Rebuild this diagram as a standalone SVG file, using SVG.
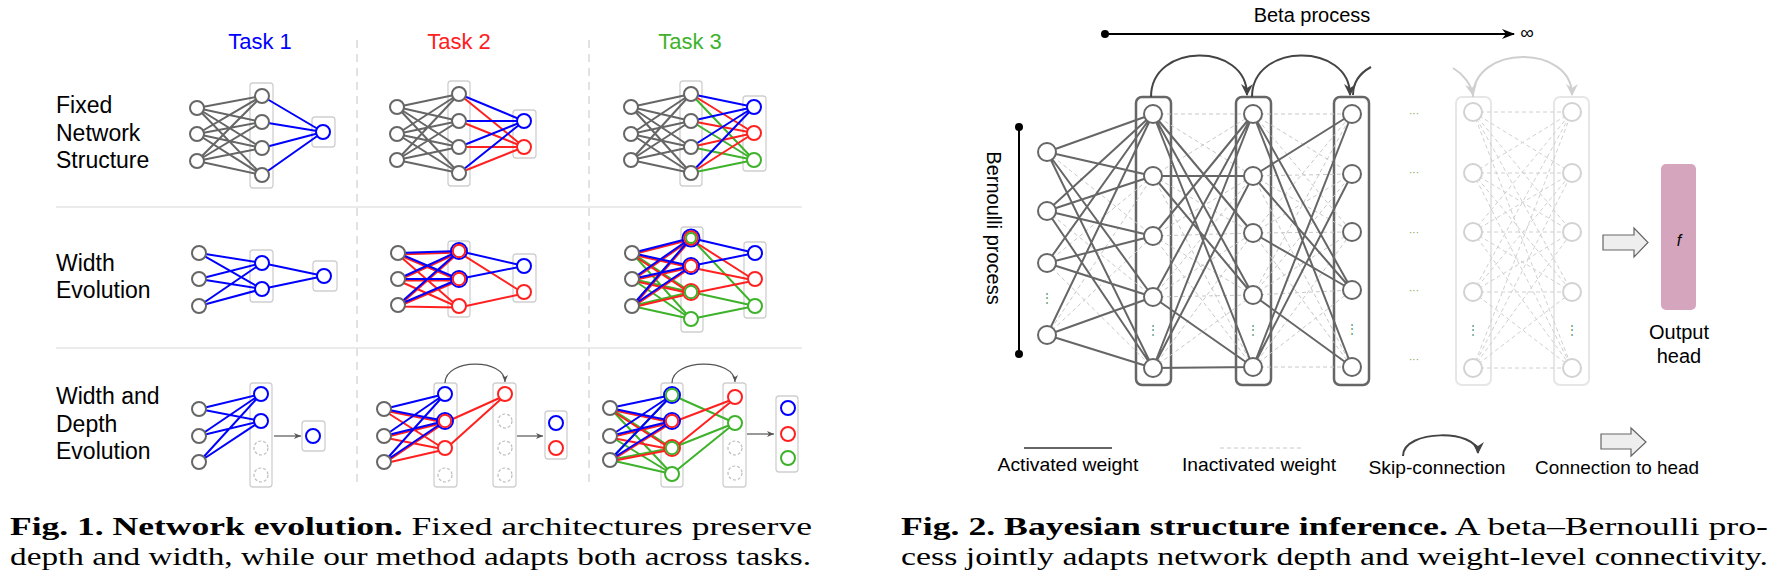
<svg xmlns="http://www.w3.org/2000/svg" width="1781" height="577" viewBox="0 0 1781 577">
<style>
text{font-family:"Liberation Sans",Arial,sans-serif;fill:#000}
.lbl{font-size:23px}
.task{font-size:22px;text-anchor:middle}
.cap{font-family:"Liberation Serif","Times New Roman",serif;font-size:26px}
.box{fill:none;stroke:#cfcfcf;stroke-width:1.3}
.n{fill:#fff;stroke:#666;stroke-width:2}
.nb{fill:#fff;stroke:#0000ff;stroke-width:2}
.nr{fill:#fff;stroke:#ff2020;stroke-width:2}
.ng{fill:#fff;stroke:#3db22a;stroke-width:2}
.nd{fill:#fff;stroke:#bdbdbd;stroke-width:1.2;stroke-dasharray:3 2}
.eg{fill:none;stroke:#666;stroke-width:2}
.eb{fill:none;stroke:#0000ff;stroke-width:2}
.er{fill:none;stroke:#ff2020;stroke-width:2}
.egr{fill:none;stroke:#3db22a;stroke-width:2}
.sep{stroke:#ebebeb;stroke-width:2}
.vsep{stroke:#e2e2e2;stroke-width:2;stroke-dasharray:8 6}
.sm{fill:none;stroke:#555;stroke-width:1.2}
.lay{fill:none;stroke:#666;stroke-width:2.5}
.flay{fill:none;stroke:#e6e6e6;stroke-width:2}
.act{fill:none;stroke:#666;stroke-width:2}
.ina{fill:none;stroke:#c8c8c8;stroke-width:1;stroke-dasharray:4 3}
.fad{fill:none;stroke:#d0d0d0;stroke-width:1;stroke-dasharray:4 3}
.m2{fill:#fff;stroke:#666;stroke-width:2}
.fm{fill:#fff;stroke:#d2d2d2;stroke-width:2}
.dots{font-size:10px;fill:#7ca040;text-anchor:middle}
.vd{font-size:12px;fill:#4f9a6a;text-anchor:middle}
.leg{font-size:19px;text-anchor:middle}
</style>
<defs>
<marker id="ahs" markerWidth="8" markerHeight="8" refX="7" refY="4" orient="auto" markerUnits="userSpaceOnUse"><path d="M0 1L7 4L0 7L2 4Z" fill="#555"/></marker>
<marker id="ahd" markerWidth="14" markerHeight="14" refX="11" refY="7" orient="auto" markerUnits="userSpaceOnUse"><path d="M0 1L12 7L0 13L4 7Z" fill="#444"/></marker>
<marker id="ahf" markerWidth="14" markerHeight="14" refX="11" refY="7" orient="auto" markerUnits="userSpaceOnUse"><path d="M0 1L12 7L0 13L4 7Z" fill="#cfcfcf"/></marker>
<marker id="ahk" markerWidth="14" markerHeight="12" refX="12" refY="6" orient="auto" markerUnits="userSpaceOnUse"><path d="M0 1L13 6L0 11L4 6Z" fill="#000"/></marker>
</defs>
<rect width="1781" height="577" fill="#fff"/>

<!-- ================= FIG 1 ================= -->
<g id="fig1-grid">
<line class="sep" x1="56" y1="207" x2="802" y2="207"/>
<line class="sep" x1="56" y1="348" x2="802" y2="348"/>
<line class="vsep" x1="357" y1="40" x2="357" y2="484"/>
<line class="vsep" x1="589" y1="40" x2="589" y2="484"/>
</g>
<g id="fig1-labels">
<text class="task" x="260" y="49" style="fill:#0000ff">Task 1</text>
<text class="task" x="459" y="49" style="fill:#ff2020">Task 2</text>
<text class="task" x="690" y="49" style="fill:#3db22a">Task 3</text>
<text class="lbl" x="56" y="113">Fixed</text>
<text class="lbl" x="56" y="141">Network</text>
<text class="lbl" x="56" y="168">Structure</text>
<text class="lbl" x="56" y="271">Width</text>
<text class="lbl" x="56" y="298">Evolution</text>
<text class="lbl" x="56" y="404">Width and</text>
<text class="lbl" x="56" y="432">Depth</text>
<text class="lbl" x="56" y="459">Evolution</text>
</g>
<g id="fig1-boxes">
<rect class="box" x="250" y="83" width="23" height="105" rx="3"/>
<rect class="box" x="312" y="117" width="23" height="30" rx="3"/>
<rect class="box" x="448" y="81" width="22" height="105" rx="3"/>
<rect class="box" x="513" y="110" width="23" height="48" rx="3"/>
<rect class="box" x="680" y="81" width="22" height="105" rx="3"/>
<rect class="box" x="743" y="96" width="23" height="75" rx="3"/>
<rect class="box" x="250" y="250" width="23" height="52" rx="3"/>
<rect class="box" x="313" y="261" width="24" height="30" rx="3"/>
<rect class="box" x="448" y="241" width="22" height="76" rx="3"/>
<rect class="box" x="513" y="254" width="23" height="48" rx="3"/>
<rect class="box" x="681" y="227" width="22" height="105" rx="3"/>
<rect class="box" x="744" y="242" width="22" height="76" rx="3"/>
<rect class="box" x="250" y="383" width="22" height="104" rx="3"/>
<rect class="box" x="302" y="421" width="23" height="30" rx="3"/>
<rect class="box" x="434" y="383" width="23" height="104" rx="3"/>
<rect class="box" x="493" y="383" width="23" height="104" rx="3"/>
<rect class="box" x="545" y="411" width="22" height="48" rx="3"/>
<rect class="box" x="661" y="383" width="22" height="104" rx="3"/>
<rect class="box" x="723" y="383" width="23" height="104" rx="3"/>
<rect class="box" x="776" y="396" width="22" height="76" rx="3"/>
</g>
<g id="fig1-connectors">
<!-- row 1 -->
<path class="eg" d="M197 108L262 96M197 108L262 122M197 108L262 148M197 108L262 175M197 134L262 96M197 134L262 122M197 134L262 148M197 134L262 175M197 161L262 96M197 161L262 122M197 161L262 148M197 161L262 175"/>
<path class="eb" d="M262 96L323 132M262 122L323 132M262 148L323 132M262 175L323 132"/>
<path class="eg" d="M397 107L459 94M397 107L459 121M397 107L459 147M397 107L459 173M397 134L459 94M397 134L459 121M397 134L459 147M397 134L459 173M397 160L459 94M397 160L459 121M397 160L459 147M397 160L459 173"/>
<path class="er" d="M459 94L524 147M459 121L524 147M459 147L524 147M459 173L524 147"/>
<path class="eb" d="M459 94L524 121M459 121L524 121M459 147L524 121M459 173L524 121"/>
<path class="eg" d="M631 107L691 94M631 107L691 121M631 107L691 147M631 107L691 173M631 134L691 94M631 134L691 121M631 134L691 147M631 134L691 173M631 160L691 94M631 160L691 121M631 160L691 147M631 160L691 173"/>
<path class="egr" d="M691 94L754 160M691 121L754 160M691 147L754 160M691 173L754 160"/>
<path class="er" d="M691 94L754 133M691 121L754 133M691 147L754 133M691 173L754 133"/>
<path class="eb" d="M691 94L754 107M691 121L754 107M691 147L754 107M691 173L754 107"/>
<!-- row 2 -->
<path class="eb" d="M199 253L262 263M199 253L262 289M199 279L262 263M199 279L262 289M199 306L262 263M199 306L262 289M262 263L324 276M262 289L324 276"/>
<path class="er" transform="translate(0,1.5)" d="M398 253L459 251M398 253L459 279M398 253L459 306M398 279L459 251M398 279L459 279M398 279L459 306M398 305L459 251M398 305L459 279M398 305L459 306M459 251L524 292M459 306L524 292"/>
<path class="eb" d="M398 253L459 251M398 253L459 279M398 279L459 251M398 279L459 279M398 305L459 251M398 305L459 279M459 251L524 266M459 279L524 266"/>
<path class="egr" d="M632 253L691 292M632 253L691 319M632 279L691 292M632 279L691 319M632 306L691 238M632 306L691 292M632 306L691 319M691 238L755 306M691 292L755 306M691 319L755 306"/>
<path class="er" transform="translate(0,1.5)" d="M632 253L691 238M632 253L691 266M632 253L691 292M632 279L691 238M632 279L691 266M632 279L691 292M632 306L691 238M632 306L691 266M632 306L691 292M691 238L755 279M691 266L755 279M691 292L755 279"/>
<path class="eb" d="M632 253L691 238M632 253L691 266M632 279L691 238M632 279L691 266M632 306L691 238M632 306L691 266M691 238L755 253M691 266L755 253"/>
<!-- row 3 -->
<path class="eb" d="M199 409L261 394M199 409L261 421M199 436L261 394M199 436L261 421M199 462L261 394M199 462L261 421"/>
<path class="sm" d="M274 436L301 436" marker-end="url(#ahs)"/>
<path class="er" transform="translate(0,1.5)" d="M384 409L445 421M384 409L445 448M384 436L445 421M384 436L445 448M384 462L445 421M384 462L445 448M445 421L505 394M445 448L505 394"/>
<path class="eb" d="M384 409L445 394M384 409L445 421M384 436L445 394M384 436L445 421M384 462L445 394M384 462L445 421"/>
<path class="sm" d="M445 383C445 358 505 358 505 382" marker-end="url(#ahs)"/>
<path class="sm" d="M517 436L543 436" marker-end="url(#ahs)"/>
<path class="egr" d="M610 408L672 448M610 408L672 474M610 436L672 474M610 460L672 395M610 460L672 448M610 460L672 474M672 395L735 423M672 448L735 423M672 474L735 423"/>
<path class="er" transform="translate(0,1.5)" d="M610 408L672 421M610 408L672 448M610 436L672 421M610 436L672 448M610 460L672 421M610 460L672 448M672 421L735 397M672 448L735 397"/>
<path class="eb" d="M610 408L672 395M610 408L672 421M610 436L672 395M610 436L672 421M610 460L672 395M610 460L672 421"/>
<path class="sm" d="M672 383C672 358 735 358 735 382" marker-end="url(#ahs)"/>
<path class="sm" d="M747 434L774 434" marker-end="url(#ahs)"/>
</g>
<!-- row 1 nodes -->
<g id="r1t1-in"><circle class="n" cx="197" cy="108" r="7"/><circle class="n" cx="197" cy="134" r="7"/><circle class="n" cx="197" cy="161" r="7"/></g>
<g id="r1t1-hid"><circle class="n" cx="262" cy="96" r="7"/><circle class="n" cx="262" cy="122" r="7"/><circle class="n" cx="262" cy="148" r="7"/><circle class="n" cx="262" cy="175" r="7"/></g>
<g id="r1t1-out"><circle class="nb" cx="323" cy="132" r="7"/></g>
<g id="r1t2-in"><circle class="n" cx="397" cy="107" r="7"/><circle class="n" cx="397" cy="134" r="7"/><circle class="n" cx="397" cy="160" r="7"/></g>
<g id="r1t2-hid"><circle class="n" cx="459" cy="94" r="7"/><circle class="n" cx="459" cy="121" r="7"/><circle class="n" cx="459" cy="147" r="7"/><circle class="n" cx="459" cy="173" r="7"/></g>
<g id="r1t2-out"><circle class="nb" cx="524" cy="121" r="7"/><circle class="nr" cx="524" cy="147" r="7"/></g>
<g id="r1t3-in"><circle class="n" cx="631" cy="107" r="7"/><circle class="n" cx="631" cy="134" r="7"/><circle class="n" cx="631" cy="160" r="7"/></g>
<g id="r1t3-hid"><circle class="n" cx="691" cy="94" r="7"/><circle class="n" cx="691" cy="121" r="7"/><circle class="n" cx="691" cy="147" r="7"/><circle class="n" cx="691" cy="173" r="7"/></g>
<g id="r1t3-out"><circle class="nb" cx="754" cy="107" r="7"/><circle class="nr" cx="754" cy="133" r="7"/><circle class="ng" cx="754" cy="160" r="7"/></g>
<!-- row 2 nodes -->
<g id="r2t1-in"><circle class="n" cx="199" cy="253" r="7"/><circle class="n" cx="199" cy="279" r="7"/><circle class="n" cx="199" cy="306" r="7"/></g>
<g id="r2t1-hid"><circle class="nb" cx="262" cy="263" r="7"/><circle class="nb" cx="262" cy="289" r="7"/></g>
<g id="r2t1-out"><circle class="nb" cx="324" cy="276" r="7"/></g>
<g id="r2t2-in"><circle class="n" cx="398" cy="253" r="7"/><circle class="n" cx="398" cy="279" r="7"/><circle class="n" cx="398" cy="305" r="7"/></g>
<g id="r2t2-hid"><circle class="nb" cx="459" cy="251" r="8"/><circle class="nr" cx="459" cy="251" r="6.2"/><circle class="nb" cx="459" cy="279" r="8"/><circle class="nr" cx="459" cy="279" r="6.2"/><circle class="nr" cx="459" cy="306" r="7"/></g>
<g id="r2t2-out"><circle class="nb" cx="524" cy="266" r="7"/><circle class="nr" cx="524" cy="292" r="7"/></g>
<g id="r2t3-in"><circle class="n" cx="632" cy="253" r="7"/><circle class="n" cx="632" cy="279" r="7"/><circle class="n" cx="632" cy="306" r="7"/></g>
<g id="r2t3-hid"><circle class="nb" cx="691" cy="238" r="8.5"/><circle class="nr" cx="691" cy="238" r="6.7"/><circle class="ng" cx="691" cy="238" r="4.9"/><circle class="nb" cx="691" cy="266" r="8"/><circle class="nr" cx="691" cy="266" r="6.2"/><circle class="nr" cx="691" cy="292" r="8"/><circle class="ng" cx="691" cy="292" r="6.2"/><circle class="ng" cx="691" cy="319" r="7"/></g>
<g id="r2t3-out"><circle class="nb" cx="755" cy="253" r="7"/><circle class="nr" cx="755" cy="279" r="7"/><circle class="ng" cx="755" cy="306" r="7"/></g>
<!-- row 3 nodes -->
<g id="r3t1-in"><circle class="n" cx="199" cy="409" r="7"/><circle class="n" cx="199" cy="436" r="7"/><circle class="n" cx="199" cy="462" r="7"/></g>
<g id="r3t1-col"><circle class="nb" cx="261" cy="394" r="7"/><circle class="nb" cx="261" cy="421" r="7"/><circle class="nd" cx="261" cy="448" r="7"/><circle class="nd" cx="261" cy="475" r="7"/></g>
<g id="r3t1-out"><circle class="nb" cx="313" cy="436" r="7"/></g>
<g id="r3t2-in"><circle class="n" cx="384" cy="409" r="7"/><circle class="n" cx="384" cy="436" r="7"/><circle class="n" cx="384" cy="462" r="7"/></g>
<g id="r3t2-col1"><circle class="nb" cx="445" cy="394" r="7"/><circle class="nb" cx="445" cy="421" r="8"/><circle class="nr" cx="445" cy="421" r="6.2"/><circle class="nr" cx="445" cy="448" r="7"/><circle class="nd" cx="445" cy="475" r="7"/></g>
<g id="r3t2-col2"><circle class="nr" cx="505" cy="394" r="7"/><circle class="nd" cx="505" cy="421" r="7"/><circle class="nd" cx="505" cy="448" r="7"/><circle class="nd" cx="505" cy="475" r="7"/></g>
<g id="r3t2-out"><circle class="nb" cx="556" cy="423" r="7"/><circle class="nr" cx="556" cy="448" r="7"/></g>
<g id="r3t3-in"><circle class="n" cx="610" cy="408" r="7"/><circle class="n" cx="610" cy="436" r="7"/><circle class="n" cx="610" cy="460" r="7"/></g>
<g id="r3t3-col1"><circle class="nb" cx="672" cy="395" r="8"/><circle class="ng" cx="672" cy="395" r="6.2"/><circle class="nb" cx="672" cy="421" r="8"/><circle class="nr" cx="672" cy="421" r="6.2"/><circle class="nr" cx="672" cy="448" r="8"/><circle class="ng" cx="672" cy="448" r="6.2"/><circle class="ng" cx="672" cy="474" r="7"/></g>
<g id="r3t3-col2"><circle class="nr" cx="735" cy="397" r="7"/><circle class="ng" cx="735" cy="423" r="7"/><circle class="nd" cx="735" cy="448" r="7"/><circle class="nd" cx="735" cy="473" r="7"/></g>
<g id="r3t3-out"><circle class="nb" cx="788" cy="408" r="7"/><circle class="nr" cx="788" cy="434" r="7"/><circle class="ng" cx="788" cy="458" r="7"/></g>

<g id="fig1-caption">
<text class="cap" x="10" y="535" textLength="802" lengthAdjust="spacingAndGlyphs"><tspan font-weight="bold">Fig. 1. Network evolution.</tspan> Fixed architectures preserve</text>
<text class="cap" x="10" y="565" textLength="801" lengthAdjust="spacingAndGlyphs">depth and width, while our method adapts both across tasks.</text>
</g>

<!-- ================= FIG 2 ================= -->
<g id="beta-process">
<text x="1312" y="22" style="font-size:20px;text-anchor:middle">Beta process</text>
<circle cx="1105" cy="34" r="4" fill="#000"/>
<path d="M1105 34L1514 34" stroke="#000" stroke-width="2" marker-end="url(#ahk)"/>
<text x="1527" y="39" style="font-size:19px;text-anchor:middle">∞</text>
</g>
<g id="bernoulli-process">
<text transform="translate(987,228) rotate(90)" style="font-size:20px;text-anchor:middle">Bernoulli process</text>
<circle cx="1019" cy="127" r="4" fill="#000"/>
<circle cx="1019" cy="354" r="4" fill="#000"/>
<line x1="1019" y1="127" x2="1019" y2="354" stroke="#000" stroke-width="2"/>
</g>
<g id="fig2-layer-boxes">
<rect class="lay" x="1136" y="97" width="35" height="288" rx="6"/>
<rect class="lay" x="1236" y="97" width="35" height="288" rx="6"/>
<rect class="lay" x="1334" y="97" width="35" height="288" rx="6"/>
<rect class="flay" x="1456" y="97" width="35" height="288" rx="6"/>
<rect class="flay" x="1554" y="97" width="35" height="288" rx="6"/>
</g>
<g id="fig2-connectors">
<path class="ina" d="M1047 152L1153 236M1047 211L1153 297M1047 263L1153 176M1047 263L1153 368M1047 335L1153 176M1047 335L1153 236"/>
<path class="ina" d="M1153 114L1253 114M1153 114L1253 176M1153 176L1253 114M1153 176L1253 233M1153 176L1253 367M1153 236L1253 176M1153 236L1253 233M1153 236L1253 295M1153 236L1253 367M1153 297L1253 176M1153 297L1253 233M1153 297L1253 295M1153 368L1253 233M1153 368L1253 295"/>
<path class="ina" d="M1253 114L1352 114M1253 114L1352 174M1253 114L1352 232M1253 176L1352 174M1253 176L1352 232M1253 176L1352 367M1253 233L1352 114M1253 233L1352 174M1253 233L1352 232M1253 233L1352 367M1253 295L1352 114M1253 295L1352 174M1253 295L1352 232M1253 295L1352 290M1253 367L1352 232M1253 367L1352 290M1253 367L1352 367"/>
<path class="fad" d="M1473 112L1572 112M1473 112L1572 173M1473 112L1572 232M1473 112L1572 292M1473 112L1572 368M1473 173L1572 112M1473 173L1572 173M1473 173L1572 232M1473 173L1572 292M1473 173L1572 368M1473 232L1572 112M1473 232L1572 173M1473 232L1572 232M1473 232L1572 292M1473 232L1572 368M1473 292L1572 112M1473 292L1572 173M1473 292L1572 232M1473 292L1572 292M1473 292L1572 368M1473 368L1572 112M1473 368L1572 173M1473 368L1572 232M1473 368L1572 292M1473 368L1572 368"/>
<path class="act" d="M1047 152L1153 114M1047 152L1153 176M1047 152L1153 297M1047 152L1153 368M1047 211L1153 114M1047 211L1153 176M1047 211L1153 236M1047 211L1153 368M1047 263L1153 114M1047 263L1153 236M1047 263L1153 297M1047 335L1153 114M1047 335L1153 297M1047 335L1153 368"/>
<path class="act" d="M1153 114L1253 233M1153 114L1253 295M1153 114L1253 367M1153 176L1253 176M1153 176L1253 295M1153 236L1253 114M1153 297L1253 114M1153 297L1253 367M1153 368L1253 114M1153 368L1253 176M1153 368L1253 367"/>
<path class="act" d="M1253 114L1352 290M1253 114L1352 367M1253 176L1352 114M1253 176L1352 290M1253 233L1352 290M1253 295L1352 367M1253 367L1352 114M1253 367L1352 174"/>
<path fill="none" stroke="#444" stroke-width="2" d="M1151 97C1151 42 1247 42 1247 95" marker-end="url(#ahd)"/>
<path fill="none" stroke="#444" stroke-width="2" d="M1252 97C1252 42 1350 42 1350 95" marker-end="url(#ahd)"/>
<path fill="none" stroke="#444" stroke-width="2" d="M1353 95C1353 82 1360 73 1371 67"/>
<path fill="none" stroke="#cfcfcf" stroke-width="2" d="M1453 68C1463 74 1471 84 1473 95" marker-end="url(#ahf)"/>
<path fill="none" stroke="#cfcfcf" stroke-width="2" d="M1473 97C1473 44 1572 44 1572 95" marker-end="url(#ahf)"/>
</g>
<g id="fig2-input">
<circle class="m2" cx="1047" cy="152" r="9"/><circle class="m2" cx="1047" cy="211" r="9"/><circle class="m2" cx="1047" cy="263" r="9"/><circle class="m2" cx="1047" cy="335" r="9"/>
<text class="vd" x="1047" y="302">⋮</text>
</g>
<g id="fig2-layer1">
<circle class="m2" cx="1153" cy="114" r="9"/><circle class="m2" cx="1153" cy="176" r="9"/><circle class="m2" cx="1153" cy="236" r="9"/><circle class="m2" cx="1153" cy="297" r="9"/><circle class="m2" cx="1153" cy="368" r="9"/>
<text class="vd" x="1153" y="334">⋮</text>
</g>
<g id="fig2-layer2">
<circle class="m2" cx="1253" cy="114" r="9"/><circle class="m2" cx="1253" cy="176" r="9"/><circle class="m2" cx="1253" cy="233" r="9"/><circle class="m2" cx="1253" cy="295" r="9"/><circle class="m2" cx="1253" cy="367" r="9"/>
<text class="vd" x="1253" y="334">⋮</text>
</g>
<g id="fig2-layer3">
<circle class="m2" cx="1352" cy="114" r="9"/><circle class="m2" cx="1352" cy="174" r="9"/><circle class="m2" cx="1352" cy="232" r="9"/><circle class="m2" cx="1352" cy="290" r="9"/><circle class="m2" cx="1352" cy="367" r="9"/>
<text class="vd" x="1352" y="333">⋮</text>
</g>
<g id="fig2-ellipsis">
<text class="dots" x="1414" y="117">···</text>
<text class="dots" x="1414" y="176">···</text>
<text class="dots" x="1414" y="236">···</text>
<text class="dots" x="1414" y="294">···</text>
<text class="dots" x="1414" y="363">···</text>
</g>
<g id="fig2-layerN1">
<circle class="fm" cx="1473" cy="112" r="9"/><circle class="fm" cx="1473" cy="173" r="9"/><circle class="fm" cx="1473" cy="232" r="9"/><circle class="fm" cx="1473" cy="292" r="9"/><circle class="fm" cx="1473" cy="368" r="9"/>
<text class="vd" x="1473" y="334">⋮</text>
</g>
<g id="fig2-layerN2">
<circle class="fm" cx="1572" cy="112" r="9"/><circle class="fm" cx="1572" cy="173" r="9"/><circle class="fm" cx="1572" cy="232" r="9"/><circle class="fm" cx="1572" cy="292" r="9"/><circle class="fm" cx="1572" cy="368" r="9"/>
<text class="vd" x="1572" y="334">⋮</text>
</g>
<g id="head-arrow">
<polygon points="1603,235 1634,235 1634,228 1648,242.5 1634,257 1634,250 1603,250" fill="#eee" stroke="#666" stroke-width="1.2"/>
</g>
<g id="output-head">
<rect x="1661" y="164" width="35" height="146" rx="5" fill="#d4a5bd"/>
<text x="1679" y="246" style="font-size:16px;font-style:italic;text-anchor:middle">f</text>
<text x="1679" y="339" style="font-size:20px;text-anchor:middle">Output</text>
<text x="1679" y="363" style="font-size:20px;text-anchor:middle">head</text>
</g>
<g id="legend">
<line x1="1024" y1="448" x2="1112" y2="448" stroke="#666" stroke-width="2"/>
<text class="leg" x="1068" y="471" textLength="141" lengthAdjust="spacingAndGlyphs">Activated weight</text>
<line x1="1220" y1="448" x2="1302" y2="448" stroke="#c8c8c8" stroke-width="1" stroke-dasharray="4 3"/>
<text class="leg" x="1259" y="471" textLength="154" lengthAdjust="spacingAndGlyphs">Inactivated weight</text>
<path d="M1403 456C1403 429 1478 429 1478 453" fill="none" stroke="#444" stroke-width="2" marker-end="url(#ahd)"/>
<text class="leg" x="1437" y="474" textLength="137" lengthAdjust="spacingAndGlyphs">Skip-connection</text>
<polygon points="1601,434 1631,434 1631,428 1646,442 1631,456 1631,449 1601,449" fill="#eee" stroke="#666" stroke-width="1.2"/>
<text class="leg" x="1617" y="474" textLength="164" lengthAdjust="spacingAndGlyphs">Connection to head</text>
</g>
<g id="fig2-caption">
<text class="cap" x="901" y="535" textLength="867" lengthAdjust="spacingAndGlyphs"><tspan font-weight="bold">Fig. 2. Bayesian structure inference.</tspan> A beta–Bernoulli pro-</text>
<text class="cap" x="901" y="565" textLength="867" lengthAdjust="spacingAndGlyphs">cess jointly adapts network depth and weight-level connectivity.</text>
</g>
</svg>
